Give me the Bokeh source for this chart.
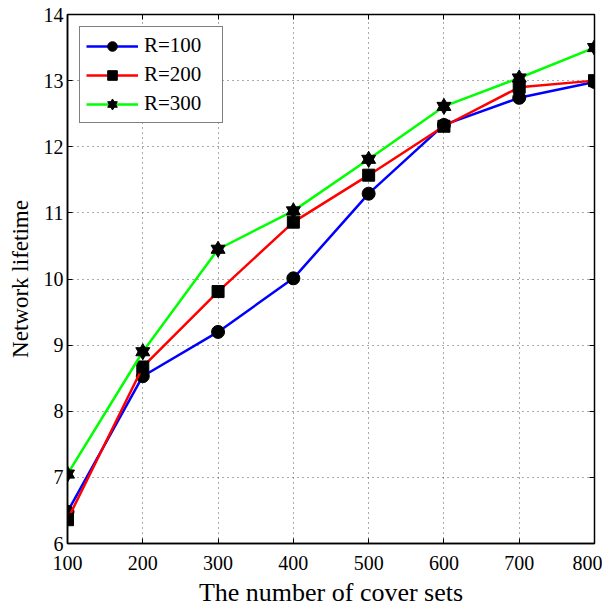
from bokeh.plotting import figure
from bokeh.models import LinearAxis, Legend, LegendItem, FixedTicker, Range1d
from bokeh.embed import file_html
from bokeh.resources import INLINE

x = [100, 200, 300, 400, 500, 600, 700, 800]
r100 = [6.48, 8.53, 9.20, 10.01, 11.29, 12.33, 12.74, 12.98]
r200 = [6.36, 8.67, 9.81, 10.86, 11.57, 12.31, 12.90, 13.00]
r300 = [7.05, 8.90, 10.45, 11.03, 11.81, 12.61, 13.04, 13.50]
xticks = [100, 200, 300, 400, 500, 600, 700, 800]
yticks = [6, 7, 8, 9, 10, 11, 12, 13, 14]

FONT = "Liberation Serif"

p = figure(output_backend="svg", toolbar_location=None,
           x_range=Range1d(100, 800), y_range=Range1d(6, 14),
           frame_width=527, frame_height=529,
           min_border_left=67, min_border_right=8, min_border_top=14, min_border_bottom=52)
p.background_fill_color = "white"
p.border_fill_color = "white"
p.outline_line_color = "black"
p.outline_line_width = 1.5

for ax in (p.xaxis[0], p.yaxis[0]):
    ax.major_tick_in = 5
    ax.major_tick_out = 0
    ax.minor_tick_in = 0
    ax.minor_tick_out = 0
    ax.axis_line_color = "black"
    ax.axis_line_width = 1.5
    ax.major_label_text_font = FONT
    ax.major_label_text_font_size = "20px"
    ax.major_label_text_color = "black"
    ax.axis_label_text_font = FONT
    ax.axis_label_text_font_style = "normal"
    ax.axis_label_text_color = "black"

p.xaxis[0].ticker = FixedTicker(ticks=xticks)
p.yaxis[0].ticker = FixedTicker(ticks=yticks)
p.xaxis[0].axis_label = "The number of cover sets"
p.yaxis[0].axis_label = "Network lifetime"
p.xaxis[0].axis_label_text_font_size = "26px"
p.yaxis[0].axis_label_text_font_size = "23px"
p.xaxis[0].major_label_standoff = 12
p.yaxis[0].major_label_standoff = 4
p.xaxis[0].axis_label_standoff = 5
p.yaxis[0].axis_label_standoff = 8

top = LinearAxis(ticker=FixedTicker(ticks=xticks), major_label_text_font_size="0px",
                 major_tick_in=5, major_tick_out=0, minor_tick_in=0, minor_tick_out=0,
                 axis_line_color="black", major_label_standoff=0)
right = LinearAxis(ticker=FixedTicker(ticks=yticks), major_label_text_font_size="0px",
                   major_tick_in=5, major_tick_out=0, minor_tick_in=0, minor_tick_out=0,
                   axis_line_color="black", major_label_standoff=0)
p.add_layout(top, "above")
p.add_layout(right, "right")

p.xgrid.ticker = FixedTicker(ticks=xticks)
p.ygrid.ticker = FixedTicker(ticks=yticks)
for g in (p.xgrid[0], p.ygrid[0]):
    g.grid_line_color = "#555555"
    g.grid_line_dash = "1 4"
    g.grid_line_width = 1

l1 = p.line(x, r100, line_color="#0000ff", line_width=2.5)
m1 = p.scatter(x, r100, marker="circle", size=13, fill_color="black", line_color="black")
l2 = p.line(x, r200, line_color="#ff0000", line_width=2.5)
m2 = p.scatter(x, r200, marker="square", size=12, fill_color="black", line_color="black")
l3 = p.line(x, r300, line_color="#00ff00", line_width=2.5)
m3a = p.scatter(x, r300, marker="triangle", size=14, fill_color="black", line_color="black")
m3b = p.scatter(x, r300, marker="inverted_triangle", size=14, fill_color="black", line_color="black")

legend = Legend(items=[
    LegendItem(label="R=100", renderers=[l1, m1]),
    LegendItem(label="R=200", renderers=[l2, m2]),
    LegendItem(label="R=300", renderers=[l3, m3a, m3b]),
], location="top_left")
legend.label_text_font = FONT
legend.label_text_font_size = "21px"
legend.label_text_color = "black"
legend.border_line_color = "black"
legend.border_line_width = 1.5
legend.background_fill_alpha = 1
legend.glyph_width = 52
legend.glyph_height = 24
legend.label_height = 24
legend.label_width = 72
legend.spacing = 4
legend.padding = 6
legend.margin = 12
legend.label_standoff = 6
p.add_layout(legend)

open("out.html", "w").write(file_html(p, INLINE))
